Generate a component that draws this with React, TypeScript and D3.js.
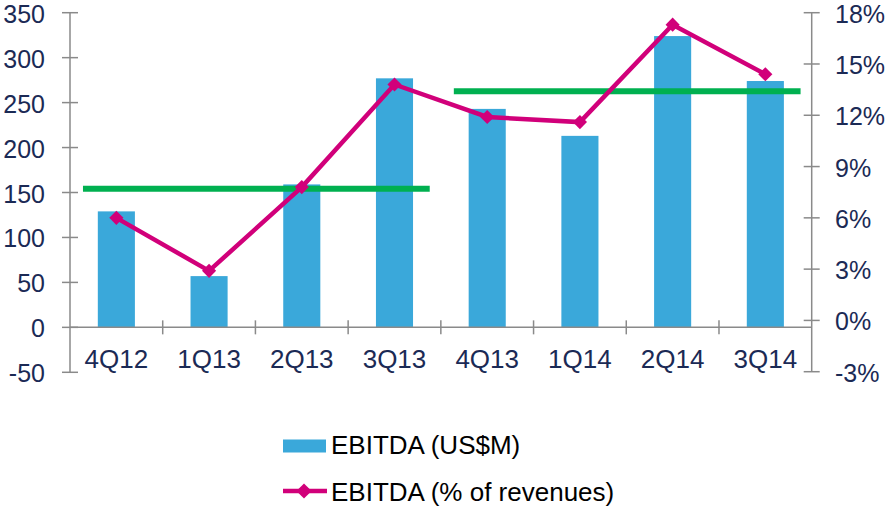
import { useEffect, useRef } from "react";
import * as d3 from "d3";

const categories = ["4Q12", "1Q13", "2Q13", "3Q13", "4Q13", "1Q14", "2Q14", "3Q14"];
const ebitdaUsd = [129, 57, 159, 277, 243, 213, 324, 274];
const ebitdaPct = [6.0, 2.9, 7.8, 13.8, 11.9, 11.6, 17.3, 14.4];
// period averages (green lines): first / last category index and % value
const avgStart = [0, 4];
const avgEnd = [3, 7];
const avgPct = [7.7, 13.4];
const leftTicks = [-50, 0, 50, 100, 150, 200, 250, 300, 350];
const rightTicks = [-3, 0, 3, 6, 9, 12, 15, 18];

const width = 888;
const height = 508;
const font = "'Liberation Sans', Arial, sans-serif";
const axisColor = "#8a8a8a";
const labelColor = "#1b2a55";

export default function App() {
  const ref = useRef<SVGSVGElement | null>(null);

  useEffect(() => {
    if (!ref.current) return;
    const svg = d3.select(ref.current);
    svg.selectAll("*").remove();

    const x0 = 70;
    const x1 = 811.7;
    const x = d3.scaleBand<string>().domain(categories).range([x0, x1]);
    const bw = x.bandwidth();
    const cx = (c: string) => (x(c) as number) + bw / 2;
    const yL = d3.scaleLinear([-50, 350], [372.3, 12.7]);
    const yR = d3.scaleLinear([-3, 18], [371.7, 12.7]);

    // bars
    svg
      .append("g")
      .selectAll("rect")
      .data(categories)
      .enter()
      .append("rect")
      .attr("x", (c) => cx(c) - bw * 0.2)
      .attr("width", bw * 0.4)
      .attr("y", (_, i) => yL(ebitdaUsd[i]))
      .attr("height", (_, i) => yL(0) - yL(ebitdaUsd[i]))
      .attr("fill", "#3aa8da");

    // axes
    const ax = svg.append("g").attr("stroke", axisColor).attr("stroke-width", 1.5);
    ax.append("line").attr("x1", x0).attr("x2", x0).attr("y1", yL(350)).attr("y2", yL(-50));
    ax.append("line").attr("x1", x1).attr("x2", x1).attr("y1", yR(18)).attr("y2", yR(-3));
    ax.append("line").attr("x1", x0).attr("x2", x1).attr("y1", yL(0)).attr("y2", yL(0));
    ax.selectAll(".lt")
      .data(leftTicks)
      .enter()
      .append("line")
      .attr("x1", x0 - 8)
      .attr("x2", x0 + 8)
      .attr("y1", (d) => yL(d))
      .attr("y2", (d) => yL(d));
    ax.selectAll(".rt")
      .data(rightTicks)
      .enter()
      .append("line")
      .attr("x1", x1 - 8)
      .attr("x2", x1 + 8)
      .attr("y1", (d) => yR(d))
      .attr("y2", (d) => yR(d));
    ax.selectAll(".xt")
      .data(categories.slice(1))
      .enter()
      .append("line")
      .attr("x1", (c) => x(c) as number)
      .attr("x2", (c) => x(c) as number)
      .attr("y1", yL(0) - 7)
      .attr("y2", yL(0) + 7);

    // tick labels
    const txt = svg
      .append("g")
      .attr("font-family", font)
      .attr("font-size", 25)
      .attr("fill", labelColor);
    txt.selectAll(".ll")
      .data(leftTicks)
      .enter()
      .append("text")
      .attr("x", 45)
      .attr("y", (d) => yL(d) + 10)
      .attr("text-anchor", "end")
      .text((d) => d);
    txt.selectAll(".rl")
      .data(rightTicks)
      .enter()
      .append("text")
      .attr("x", 835)
      .attr("y", (d) => yR(d) + 10)
      .text((d) => `${d}%`);
    txt.selectAll(".cl")
      .data(categories)
      .enter()
      .append("text")
      .attr("x", (c) => cx(c))
      .attr("y", 368)
      .attr("font-size", 26)
      .attr("text-anchor", "middle")
      .text((c) => c);

    // average lines
    svg
      .append("g")
      .selectAll("line")
      .data(avgPct)
      .enter()
      .append("line")
      .attr("x1", (_, i) => (x(categories[avgStart[i]]) as number) + bw * 0.14)
      .attr("x2", (_, i) => (x(categories[avgEnd[i]]) as number) + bw * 0.88)
      .attr("y1", (d) => yR(d))
      .attr("y2", (d) => yR(d))
      .attr("stroke", "#00b050")
      .attr("stroke-width", 6);

    // % line
    const magenta = "#d1007a";
    const line = d3
      .line<number>()
      .x((_, i) => cx(categories[i]))
      .y((d) => yR(d));
    svg
      .append("path")
      .attr("d", line(ebitdaPct))
      .attr("fill", "none")
      .attr("stroke", magenta)
      .attr("stroke-width", 4.5);
    const diamond = d3.symbol().type(d3.symbolSquare).size(100);
    svg
      .append("g")
      .selectAll("path")
      .data(ebitdaPct)
      .enter()
      .append("path")
      .attr("d", diamond)
      .attr("transform", (d, i) => `translate(${cx(categories[i])},${yR(d)}) rotate(45)`)
      .attr("fill", magenta);

    // legend
    const lg = svg
      .append("g")
      .attr("font-family", font)
      .attr("font-size", 26)
      .attr("fill", "#000");
    lg.append("rect")
      .attr("x", 283)
      .attr("y", 439.5)
      .attr("width", 43)
      .attr("height", 13)
      .attr("fill", "#3aa8da");
    lg.append("text").attr("x", 331).attr("y", 453.5).text("EBITDA (US$M)");
    lg.append("line")
      .attr("x1", 283)
      .attr("x2", 327)
      .attr("y1", 491)
      .attr("y2", 491)
      .attr("stroke", magenta)
      .attr("stroke-width", 4.5);
    lg.append("path")
      .attr("d", d3.symbol().type(d3.symbolSquare).size(115))
      .attr("transform", "translate(304,491) rotate(45)")
      .attr("fill", magenta);
    lg.append("text").attr("x", 331).attr("y", 500.5).text("EBITDA (% of revenues)");
  }, []);

  return (
    <svg
      ref={ref}
      width={width}
      height={height}
      style={{ position: "absolute", left: 0, top: 0, background: "#fff" }}
    />
  );
}
